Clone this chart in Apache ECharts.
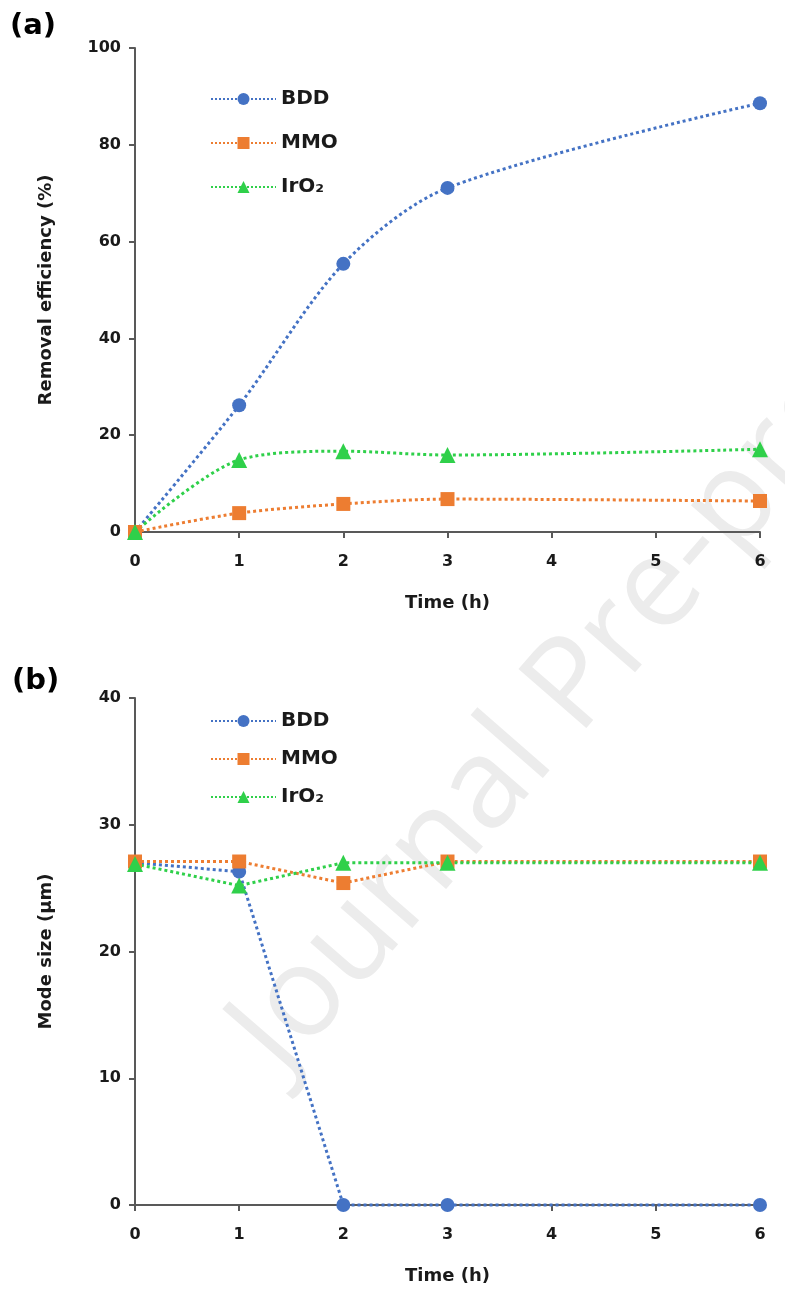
<!DOCTYPE html>
<html>
<head>
<meta charset="utf-8">
<script src="https://cdn.jsdelivr.net/npm/echarts@6/dist/echarts.min.js"></script>
<style>
  html, body { margin: 0; padding: 0; background: #fff; }
  #chart { width: 785px; height: 1291px; }
</style>
</head>
<body>
<div id="chart"></div>
<script>
// time points (h)
const times = [0, 1, 2, 3, 6]

// (a) removal efficiency (%)
const bddRemoval = [0, 26.2, 55.4, 71.1, 88.6]
const mmoRemoval = [0, 3.9, 5.8, 6.8, 6.4]
const iroRemoval = [0, 14.9, 16.7, 15.9, 17.1]

// (b) mode size (µm)
const bddMode = [27.0, 26.3, 0, 0, 0]
const mmoMode = [27.1, 27.1, 25.4, 27.1, 27.1]
const iroMode = [26.9, 25.2, 27.0, 27.0, 27.0]

const names = ['BDD', 'MMO', 'IrO₂']
const colors = ['#4472C4', '#ED7D31', '#2FD04A']
const symbols = ['circle', 'rect', 'triangle']

const font = 'DejaVu Sans'

function pairs(ys) {
  return times.map((t, i) => [t, ys[i]])
}

const axisLine = { lineStyle: { color: '#595959', width: 2 } }
const labelStyle = { color: '#1a1a1a', fontSize: 16, fontWeight: 'bold', fontFamily: font }
const nameStyle = { color: '#1a1a1a', fontSize: 18, fontWeight: 'bold', fontFamily: font }

function xAxis(grid) {
  return {
    gridIndex: grid,
    type: 'value',
    min: 0, max: 6, interval: 1,
    name: 'Time (h)',
    nameLocation: 'middle',
    nameGap: 62,
    nameTextStyle: nameStyle,
    axisLine: axisLine,
    axisTick: { show: true, length: 6, lineStyle: { color: '#595959', width: 2 } },
    axisLabel: Object.assign({ margin: 22 }, labelStyle),
    splitLine: { show: false }
  }
}

function yAxis(grid, max, interval, name) {
  return {
    gridIndex: grid,
    type: 'value',
    min: 0, max: max, interval: interval,
    name: name,
    nameLocation: 'middle',
    nameGap: 80,
    nameTextStyle: nameStyle,
    axisLine: { show: true, lineStyle: { color: '#595959', width: 2 } },
    axisTick: { show: true, length: 6, lineStyle: { color: '#595959', width: 2 } },
    axisLabel: Object.assign({ margin: 14 }, labelStyle),
    splitLine: { show: false }
  }
}

function line(i, data, grid, smooth) {
  return {
    name: names[i],
    type: 'line',
    xAxisIndex: grid,
    yAxisIndex: grid,
    data: pairs(data),
    smooth: smooth,
    symbol: symbols[i],
    symbolSize: i === 2 ? 16 : 14,
    clip: false,
    color: colors[i],
    lineStyle: { type: 'dotted', width: 3, color: colors[i] },
    itemStyle: { color: colors[i] },
    animation: false
  }
}

function legend(top, gap) {
  return {
    data: names,
    orient: 'vertical',
    left: 205,
    top: top,
    itemWidth: 65,
    itemHeight: 15,
    itemGap: gap,
    textStyle: { color: '#1a1a1a', fontSize: 20, fontWeight: 'bold', fontFamily: font }
  }
}

const chart = echarts.init(document.getElementById('chart'), null, { renderer: 'canvas' })

chart.setOption({
  backgroundColor: '#fff',
  grid: [
    { left: 135, top: 48, width: 625, height: 484 },
    { left: 135, top: 698, width: 625, height: 507 }
  ],
  legend: [legend(84, 24), legend(706, 18)],
  xAxis: [xAxis(0), xAxis(1)],
  yAxis: [
    yAxis(0, 100, 20, 'Removal efficiency (%)'),
    yAxis(1, 40, 10, 'Mode size (µm)')
  ],
  graphic: [
    { type: 'text', left: 10, top: 12, z: 10,
      style: { text: '(a)', fontSize: 29, fontWeight: 'bold', fill: '#000', fontFamily: font } },
    { type: 'text', left: 12, top: 667, z: 10,
      style: { text: '(b)', fontSize: 29, fontWeight: 'bold', fill: '#000', fontFamily: font } },
    { type: 'text', x: 208, y: 1012, rotation: Math.PI * 0.272, z: -1, silent: true,
      style: { text: 'Journal Pre-proof', fontSize: 126, fill: '#ececec', fontFamily: 'Open Sans' } }
  ],
  series: [
    line(0, bddRemoval, 0, 0.3),
    line(1, mmoRemoval, 0, 0.3),
    line(2, iroRemoval, 0, 0.3),
    line(0, bddMode, 1, false),
    line(1, mmoMode, 1, false),
    line(2, iroMode, 1, false)
  ]
})
</script>
</body>
</html>
